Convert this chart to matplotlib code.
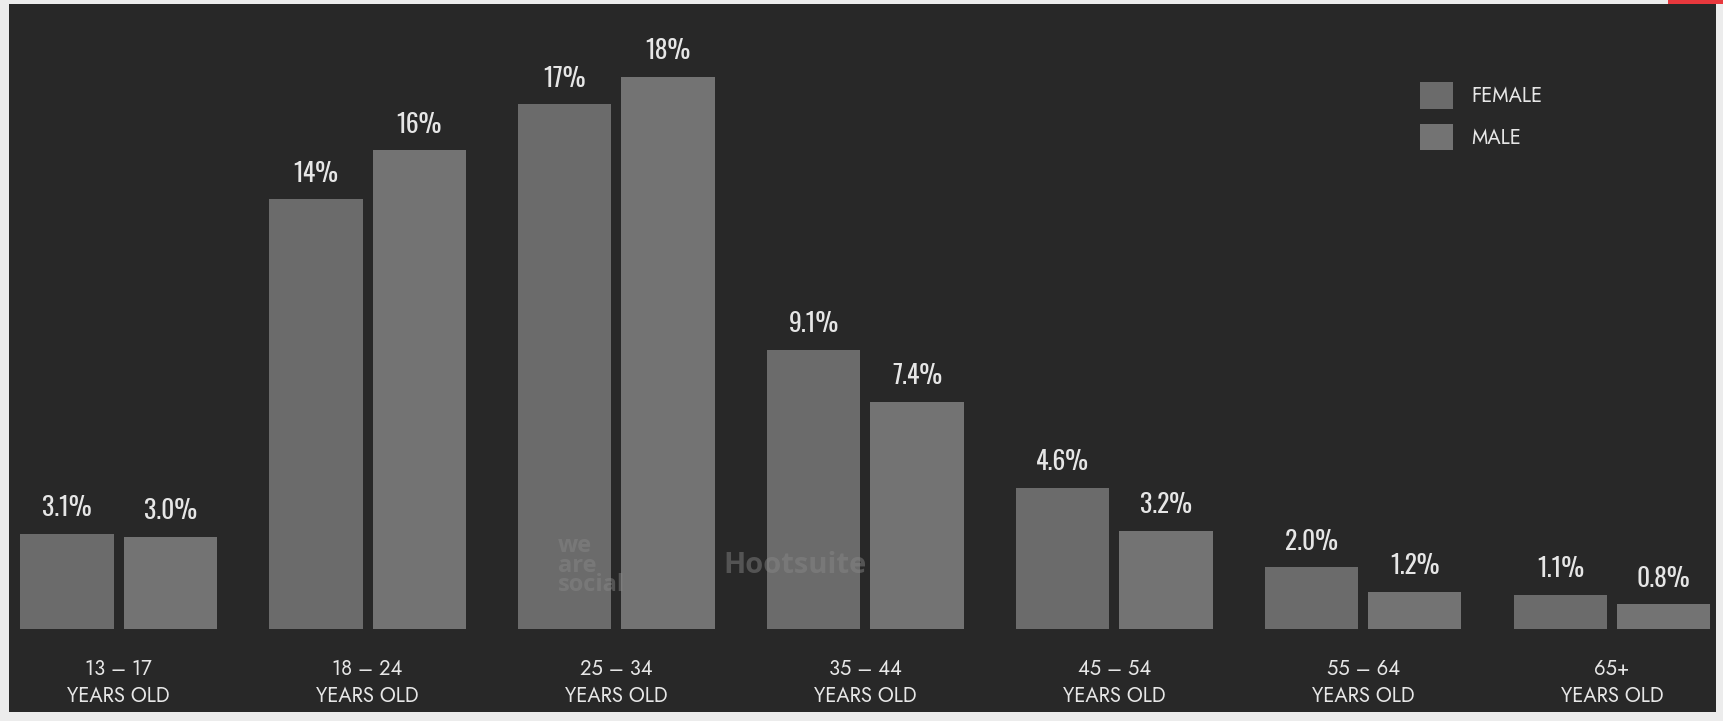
import matplotlib
matplotlib.use("Agg")
import matplotlib.pyplot as plt
import matplotlib.patches as mpatches
import numpy as np

age_groups = ["13 – 17", "18 – 24", "25 – 34", "35 – 44", "45 – 54", "55 – 64", "65+"]
female = [3.1, 14.0, 17.1, 9.1, 4.6, 2.0, 1.1]
male = [3.0, 15.6, 18.0, 7.4, 3.2, 1.2, 0.8]
female_labels = ["3.1%", "14%", "17%", "9.1%", "4.6%", "2.0%", "1.1%"]
male_labels = ["3.0%", "16%", "18%", "7.4%", "3.2%", "1.2%", "0.8%"]

bg = "#282828"
female_col = "#6b6b6b"
male_col = "#737373"
txt_col = "#e6e6e6"
cond = ["Oswald", "Barlow Condensed", "DejaVu Sans"]
geo = ["Jost", "League Spartan", "Lato", "DejaVu Sans"]

fig = plt.figure(figsize=(17.23, 7.21), dpi=100)
fig.patch.set_facecolor("#ececec")
# dark panel
fig.patches.append(mpatches.Rectangle((0.0055, 0.012), 0.9905, 0.983, transform=fig.transFigure,
                                      facecolor=bg, edgecolor="none", zorder=-10))
fig.patches.append(mpatches.Rectangle((0.968, 0.995), 0.032, 0.005, transform=fig.transFigure,
                                      facecolor="#e8383d", edgecolor="none", zorder=-10))

ax = fig.add_axes([0, 0.128, 1, 0.8506])
ax.set_facecolor("none")
ax.set_xlim(-0.477, 6.446)
ax.set_ylim(0, 20)
for s in ax.spines.values():
    s.set_visible(False)
ax.set_xticks([])
ax.set_yticks([])

x = np.arange(len(age_groups))
w = 0.375
off = 0.2075
b1 = ax.bar(x - off, female, w, color=female_col, label="FEMALE", zorder=2)
b2 = ax.bar(x + off, male, w, color=male_col, label="MALE", zorder=2)

for xi, v, lab in zip(x - off, female, female_labels):
    ax.annotate(lab, (xi, v), xytext=(0, 9), textcoords="offset points", ha="center", va="bottom",
                color=txt_col, fontsize=18.5, fontweight="bold", family=cond)
for xi, v, lab in zip(x + off, male, male_labels):
    ax.annotate(lab, (xi, v), xytext=(0, 9), textcoords="offset points", ha="center", va="bottom",
                color=txt_col, fontsize=18.5, fontweight="bold", family=cond)

for xi, g in zip(x, age_groups):
    ax.annotate(g + "\nYEARS OLD", (xi, 0), xytext=(0, -21), textcoords="offset points",
                ha="center", va="top", color=txt_col, fontsize=14.5, family=geo,
                linespacing=1.3, annotation_clip=False)

leg = ax.legend(handles=[b1, b2], loc="upper left", bbox_to_anchor=(0.824, 0.886),
                bbox_transform=fig.transFigure, frameon=False, fontsize=14.5,
                handlelength=1.65, handleheight=1.65, handletextpad=0.9, labelspacing=0.75,
                borderpad=0, borderaxespad=0)
for t in leg.get_texts():
    t.set_color(txt_col)
    t.set_family(geo)

# faint watermark
fig.text(0.324, 0.215, "we\nare\nsocial", color="#8a8a8a", alpha=0.45, fontsize=17,
         fontweight="bold", family=["Open Sans", "DejaVu Sans"], linespacing=0.75, va="center")
fig.text(0.42, 0.215, "Hootsuite", color="#8a8a8a", alpha=0.45, fontsize=21,
         fontweight="bold", family=["Open Sans", "DejaVu Sans"], va="center")

fig.savefig("out.png", dpi=100, facecolor=fig.get_facecolor())
